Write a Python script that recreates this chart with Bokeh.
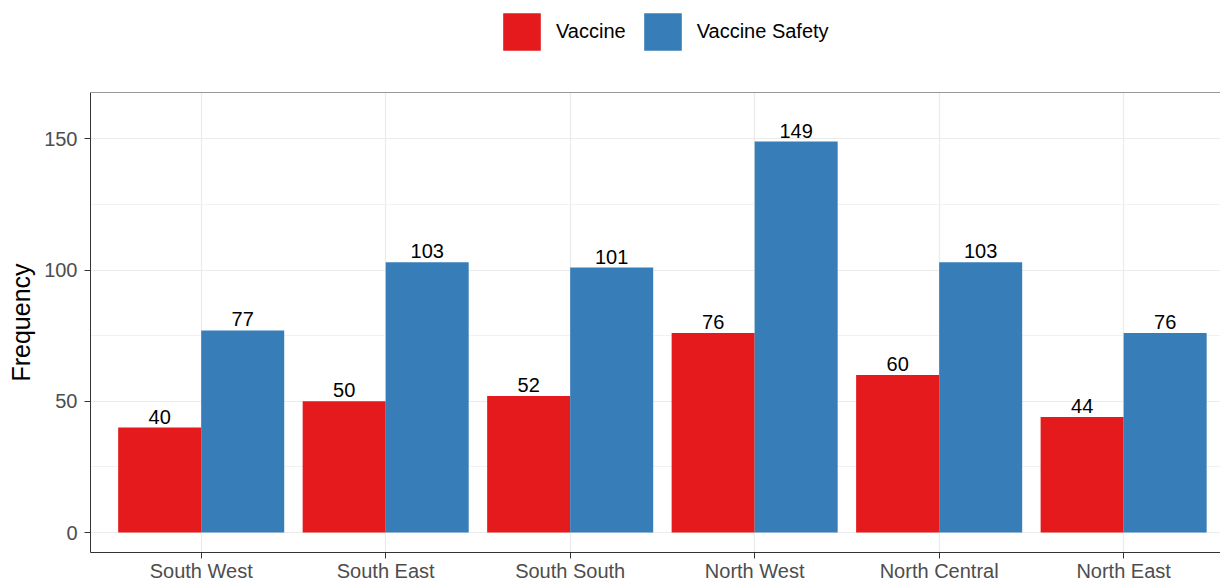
from bokeh.plotting import figure
from bokeh.layouts import column
from bokeh.models import (ColumnDataSource, FixedTicker, Range1d, Legend, LegendItem, Span)
from bokeh.transform import dodge
from bokeh.core.properties import value
from bokeh.embed import file_html
from bokeh.resources import INLINE

regions = ["South West", "South East", "South South", "North West", "North Central", "North East"]
vaccine = [40, 50, 52, 76, 60, 44]
vaccine_safety = [77, 103, 101, 149, 103, 76]
series_names = ["Vaccine", "Vaccine Safety"]
y_ticks = [0, 50, 100, 150]
y_minor = [25, 75, 125]

FONT = "Liberation Sans"
RED = "#E41A1C"
BLUE = "#377EB8"

xpos = list(range(1, len(regions) + 1))
src = ColumnDataSource(dict(
    x=xpos,
    vaccine=vaccine,
    safety=vaccine_safety,
    vaccine_txt=[str(v) for v in vaccine],
    safety_txt=[str(v) for v in vaccine_safety],
))

# ---------- legend strip (top) ----------
# the bars drawn here lie outside this strip's ranges: only their legend swatches show
lf = figure(width=1220, height=82, output_backend="svg", toolbar_location=None,
            x_axis_type=None, y_axis_type=None,
            x_range=Range1d(100, 101), y_range=Range1d(1000, 1001),
            min_border_left=0, min_border_right=0, min_border_top=0, min_border_bottom=0)
lf.outline_line_color = None
lf.xgrid.visible = False
lf.ygrid.visible = False
d1 = lf.vbar(x="x", top="vaccine", width=0.45, source=src, fill_color=RED, line_color=None)
d2 = lf.vbar(x="x", top="safety", width=0.45, source=src, fill_color=BLUE, line_color=None)
legend = Legend(items=[LegendItem(label=series_names[0], renderers=[d1]),
                       LegendItem(label=series_names[1], renderers=[d2])],
                location=(408, 27), orientation="horizontal",
                glyph_width=47, glyph_height=47, label_standoff=11, spacing=13,
                padding=0, margin=0, border_line_color=None, background_fill_alpha=0,
                label_text_font=FONT, label_text_font_size="20px", label_text_color="black",
                label_text_baseline="middle")
lf.add_layout(legend, "center")

# ---------- main chart ----------
y_end = 167.7
p = figure(frame_width=1130, frame_height=460, output_backend="svg", toolbar_location=None,
           x_range=Range1d(0.4, 6.525), y_range=Range1d(-7.62, y_end),
           min_border_left=90, min_border_right=0, min_border_top=10, min_border_bottom=30)
p.outline_line_color = None
p.background_fill_color = "white"
p.border_fill_color = "white"

r1 = p.vbar(x=dodge("x", -0.225, range=p.x_range), top="vaccine", width=0.45, bottom=0,
            source=src, fill_color=RED, line_color=None)
r2 = p.vbar(x=dodge("x", 0.225, range=p.x_range), top="safety", width=0.45, bottom=0,
            source=src, fill_color=BLUE, line_color=None)

for col, txt, off in (("vaccine", "vaccine_txt", -0.225), ("safety", "safety_txt", 0.225)):
    p.text(x=dodge("x", off, range=p.x_range), y=col, text=txt, source=src,
           text_align="center", text_baseline="bottom", y_offset=-4,
           text_font=value(FONT), text_font_size=value("20px"), text_color="black")

p.xaxis.ticker = FixedTicker(ticks=xpos)
p.xaxis.major_label_overrides = {i: r for i, r in zip(xpos, regions)}
p.yaxis.ticker = FixedTicker(ticks=y_ticks, minor_ticks=y_minor)

for ax in (p.xaxis[0], p.yaxis[0]):
    ax.axis_line_color = "#333333"
    ax.axis_line_width = 1
    ax.major_tick_line_color = "#333333"
    ax.major_tick_line_width = 1
    ax.major_tick_out = 6
    ax.major_tick_in = 0
    ax.minor_tick_line_color = None
    ax.major_label_text_font = FONT
    ax.major_label_text_font_size = "20px"
    ax.major_label_text_color = "#4D4D4D"

p.xaxis.major_label_standoff = 1
p.yaxis.major_label_standoff = 7
p.yaxis.axis_label = "Frequency"
p.yaxis.axis_label_text_font = FONT
p.yaxis.axis_label_text_font_size = "25px"
p.yaxis.axis_label_text_font_style = "normal"
p.yaxis.axis_label_text_color = "black"
p.yaxis.axis_label_standoff = 6

p.xgrid.grid_line_color = "#EBEBEB"
p.xgrid.grid_line_width = 1.2
p.ygrid.grid_line_color = "#EBEBEB"
p.ygrid.grid_line_width = 1.2
p.ygrid.minor_grid_line_color = "#F2F2F2"
p.ygrid.minor_grid_line_width = 1

p.add_layout(Span(location=y_end, dimension="width", line_color="#333333", line_width=1))

layout = column(lf, p, spacing=0)
open("out.html", "w").write(file_html(layout, INLINE))
